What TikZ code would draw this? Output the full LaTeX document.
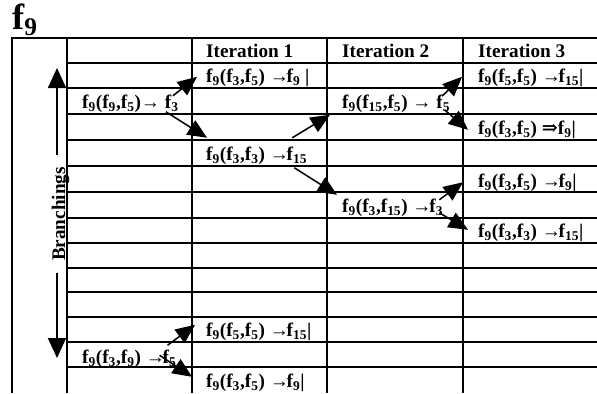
\documentclass[tikz,border=0pt]{standalone}
\usepackage{fontspec}
\setmainfont{Liberation Serif}
\newfontfamily\symfont{DejaVu Serif}
\usetikzlibrary{arrows.meta}
\newcommand{\fs}[1]{f\textsubscript{#1}}
\newcommand{\ra}{→\kern-2pt}
\tikzset{
  gridline/.style={line width=1.6pt},
  thinline/.style={line width=1.1pt},
  cell/.style={anchor=base west, inner sep=0pt, font=\fontsize{16.4}{18}\selectfont\bfseries},
  barrow/.style={-{Triangle[length=6mm, width=5.4mm]}, line width=1.6pt},
  carrow/.style={-{Triangle[length=5.8mm, width=5mm]}, line width=1.3pt}
}

\begin{document}
\begin{tikzpicture}[x=0.03cm, y=-0.03cm]
\useasboundingbox (0,0) rectangle (597,393);

\draw[gridline] (12,393) -- (12,38) -- (597,38);
\foreach \x in {67,192,327,463}
  \draw[gridline] (\x,38) -- (\x,393);
\foreach \y in {88,114,140,166,218,268,292,317,367}
  \draw[gridline] (67,\y) -- (597,\y);
\foreach \y in {63,192,243,342}
  \draw[thinline] (67,\y) -- (597,\y);

\node[cell, font=\fontsize{31}{34}\selectfont\bfseries] (title) at (12,29) {\fs{9}};

\node[cell] (it1) at (206,57.5) {Iteration 1};
\node[cell] (it2) at (342,57.5) {Iteration 2};
\node[cell] (it3) at (478,57.5) {Iteration 3};

\node[cell] (c0r2) at (82,108.5) {\fs{9}(\fs{9},\fs{5})→ \fs{3}};
\node[cell] (c0r12) at (82,363) {\fs{9}(\fs{3},\fs{9}) \ra\fs{5}};
\node[cell] (c1r1) at (206,82.5) {\fs{9}(\fs{3},\fs{5}) \ra\fs{9} |};
\node[cell] (c1r4) at (206,160.5) {\fs{9}(\fs{3},\fs{3}) \ra\fs{15}};
\node[cell] (c1r11) at (206,336.5) {\fs{9}(\fs{5},\fs{5}) \ra\fs{15}|};
\node[cell] (c1r13) at (206,387.5) {\fs{9}(\fs{3},\fs{5}) \ra\fs{9}|};
\node[cell] (c2r2) at (342,108.5) {\fs{9}(\fs{15},\fs{5}) → \fs{5}};
\node[cell] (c2r6) at (342,212.5) {\fs{9}(\fs{3},\fs{15}) \ra\fs{3}};
\node[cell] (c3r1) at (478,82.5) {\fs{9}(\fs{5},\fs{5}) \ra\fs{15}|};
\node[cell] (c3r3) at (478,134.5) {\fs{9}(\fs{3},\fs{5}) {\symfont ⇒}\fs{9}|};
\node[cell] (c3r5) at (478,187) {\fs{9}(\fs{3},\fs{5}) \ra\fs{9}|};
\node[cell] (c3r7) at (478,237.5) {\fs{9}(\fs{3},\fs{3}) \ra\fs{15}|};

\node[cell, anchor=center, rotate=90, inner xsep=0.36cm] (br) at (60.5,214) {Branchings};
\coordinate (bt) at (57,68);
\coordinate (bb) at (57,358);
\draw[barrow] (bt |- br.east) -- (bt);
\draw[barrow] (bb |- br.west) -- (bb);

\draw[carrow] ([shift={(-6,-8)}]c0r2.east) -- ([shift={(-9,-1)}]c1r1.west);
\draw[carrow] ([shift={(-13,8)}]c0r2.east) -- ([shift={(1,-18)}]c1r4.west);
\draw[carrow] ([shift={(-15,-18)}]c1r4.east) -- ([shift={(-12,11)}]c2r2.west);
\draw[carrow] ([shift={(-13,12)}]c1r4.east) -- ([shift={(-5,-13)}]c2r6.west);
\draw[carrow] ([shift={(-8,-8)}]c2r2.east) -- ([shift={(-16,-1)}]c3r1.west);
\draw[carrow] ([shift={(-6,6)}]c2r2.east) -- ([shift={(-10,0)}]c3r3.west);
\draw[carrow] ([shift={(-4,-8)}]c2r6.east) -- ([shift={(-15,0)}]c3r5.west);
\draw[carrow] ([shift={(-4,5)}]c2r6.east) -- ([shift={(-10,-3)}]c3r7.west);
\draw[carrow] ([shift={(-9,-13)}]c0r12.east) -- ([shift={(-11,-7)}]c1r11.west);
\draw[carrow] ([shift={(-17,-3)}]c0r12.east) -- ([shift={(-14,-6)}]c1r13.west);
\end{tikzpicture}
\end{document}
